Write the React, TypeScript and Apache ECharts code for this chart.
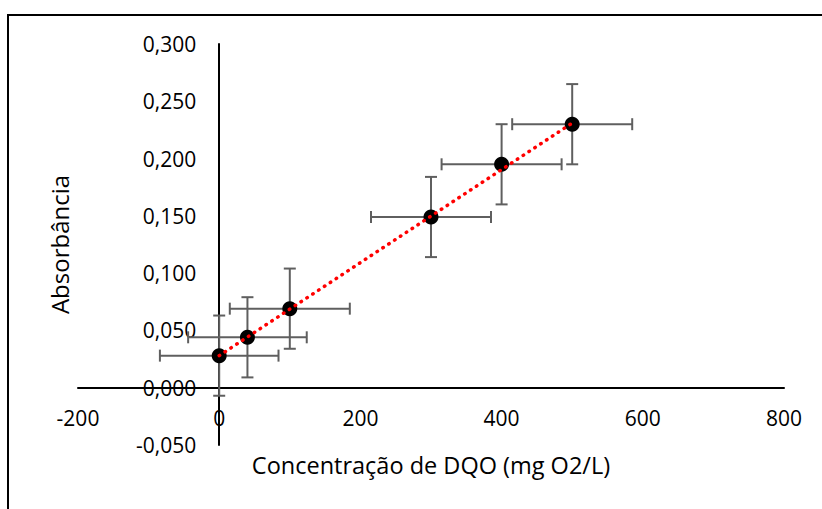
import React, { useEffect, useRef } from "react";
import * as echarts from "echarts";

const concentration = [0, 40, 100, 300, 400, 500];
const absorbance = [0.028, 0.044, 0.069, 0.149, 0.195, 0.23];
const xError = [84, 84, 85, 85, 85, 85];
const yError = [0.035, 0.035, 0.035, 0.035, 0.035, 0.035];
const trendX = [0, 500];
const trendY = [0.028, 0.231];
const xTitle = "Concentração de DQO (mg O2/L)";
const yTitle = "Absorbância";

const FONT = "Open Sans";
const X_MIN = -200;
const X_MAX = 800;
const Y_MIN = -0.05;
const Y_MAX = 0.3;
const GRID = { left: 78, right: 38, top: 44, bottom: 64 };
const W = 822;
const H = 509;

export default function App() {
  const ref = useRef<HTMLDivElement>(null);
  useEffect(() => {
    if (!ref.current) return;
    const chart = echarts.init(ref.current, undefined, { renderer: "svg" });
    const errData = concentration.map((x, i) => [x, absorbance[i], xError[i], yError[i]]);
    const gw = W - GRID.left - GRID.right;
    const gh = H - GRID.top - GRID.bottom;
    // move axes (with their labels) onto the zero lines of the other axis
    const xOffset = -(gh * (0 - Y_MIN)) / (Y_MAX - Y_MIN);
    const yOffset = -(gw * (0 - X_MIN)) / (X_MAX - X_MIN);
    chart.setOption({
      animation: false,
      backgroundColor: "#ffffff",
      textStyle: { fontFamily: FONT },
      grid: { ...GRID, containLabel: false, outerBoundsMode: "none" },
      graphic: [
        {
          type: "rect",
          shape: { x: 8, y: 15, width: 900, height: 600 },
          style: { fill: "none", stroke: "#000", lineWidth: 2 },
          silent: true,
          z: -10,
        },
      ],
      xAxis: {
        type: "value",
        min: X_MIN,
        max: X_MAX,
        interval: 200,
        position: "bottom",
        offset: xOffset,
        name: xTitle,
        nameLocation: "middle",
        nameGap: 65,
        nameTextStyle: { fontFamily: FONT, fontSize: 23.5, color: "#000" },
        axisLine: { show: true, onZero: false, lineStyle: { color: "#000", width: 2 } },
        axisTick: { show: false },
        splitLine: { show: false },
        axisLabel: { fontFamily: FONT, fontSize: 21, color: "#000", margin: 20 },
      },
      yAxis: {
        type: "value",
        min: Y_MIN,
        max: Y_MAX,
        interval: 0.05,
        position: "left",
        offset: yOffset,
        name: yTitle,
        nameLocation: "middle",
        nameGap: 148,
        nameTextStyle: { fontFamily: FONT, fontSize: 24, color: "#000" },
        axisLine: { show: true, onZero: false, lineStyle: { color: "#000", width: 2 } },
        axisTick: { show: false },
        splitLine: { show: false },
        axisLabel: {
          fontFamily: FONT,
          fontSize: 21,
          color: "#000",
          margin: 23,
          formatter: (v: number) => v.toFixed(3).replace(".", ","),
        },
      },
      series: [
        {
          type: "custom",
          name: "errors",
          data: errData,
          z: 2,
          renderItem: (params: any, api: any) => {
            const x = api.value(0);
            const y = api.value(1);
            const ex = api.value(2);
            const ey = api.value(3);
            const l = api.coord([x - ex, y]);
            const r = api.coord([x + ex, y]);
            const t = api.coord([x, y + ey]);
            const b = api.coord([x, y - ey]);
            const c = 6;
            const style = { stroke: "#5f5f5f", lineWidth: 2 };
            return {
              type: "group",
              children: [
                { type: "line", shape: { x1: l[0], y1: l[1], x2: r[0], y2: r[1] }, style },
                { type: "line", shape: { x1: l[0], y1: l[1] - c, x2: l[0], y2: l[1] + c }, style },
                { type: "line", shape: { x1: r[0], y1: r[1] - c, x2: r[0], y2: r[1] + c }, style },
                { type: "line", shape: { x1: t[0], y1: t[1], x2: b[0], y2: b[1] }, style },
                { type: "line", shape: { x1: t[0] - c, y1: t[1], x2: t[0] + c, y2: t[1] }, style },
                { type: "line", shape: { x1: b[0] - c, y1: b[1], x2: b[0] + c, y2: b[1] }, style },
              ],
            };
          },
        },
        {
          type: "scatter",
          name: "data",
          data: concentration.map((x, i) => [x, absorbance[i]]),
          symbol: "circle",
          symbolSize: 15,
          itemStyle: { color: "#000", opacity: 1 },
          z: 3,
        },
        {
          type: "line",
          name: "trend",
          data: trendX.map((x, i) => [x, trendY[i]]),
          showSymbol: false,
          symbol: "none",
          lineStyle: { color: "#ff0000", width: 3.5, type: [0.5, 6.5], cap: "round" },
          z: 4,
        },
      ],
    });
    return () => chart.dispose();
  }, []);
  return (
    <div
      ref={ref}
      style={{ position: "fixed", left: 0, top: 0, width: W, height: H }}
    />
  );
}
